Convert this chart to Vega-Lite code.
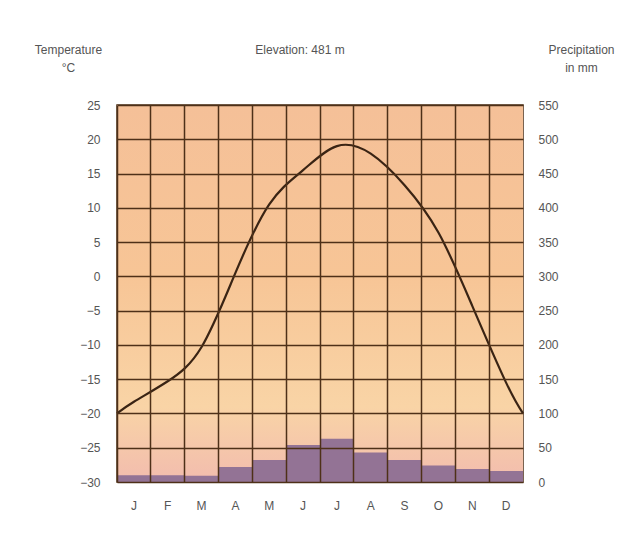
{
  "$schema": "https://vega.github.io/schema/vega-lite/v6.json",
  "width": 406,
  "height": 377,
  "autosize": "none",
  "padding": {"left": 117, "top": 105, "right": 113, "bottom": 55},
  "background": "white",
  "config": {
    "font": "Liberation Sans",
    "view": {"stroke": "#4e3018", "strokeWidth": 1.5},
    "axis": {"labelColor": "#555555", "titleColor": "#555555", "labelFontSize": 12, "titleFontSize": 12, "titleFontWeight": "normal", "domain": false, "ticks": false, "gridColor": "#4e3018", "gridOpacity": 1, "gridWidth": 1.5}
  },
  "title": {"text": "Elevation: 481 m", "anchor": "middle", "dx": -20, "offset": -14, "fontSize": 12, "fontWeight": "normal", "color": "#555555", "font": "Liberation Sans"},
  "datasets": {
    "precip": [
      {"month": "Jan", "precip": 10},
      {"month": "Feb", "precip": 10},
      {"month": "Mar", "precip": 9},
      {"month": "Apr", "precip": 22},
      {"month": "May", "precip": 32},
      {"month": "Jun", "precip": 54},
      {"month": "Jul", "precip": 63},
      {"month": "Aug", "precip": 43},
      {"month": "Sep", "precip": 32},
      {"month": "Oct", "precip": 24},
      {"month": "Nov", "precip": 19},
      {"month": "Dec", "precip": 16}
    ],
    "temp": [
      {"t": 0, "temp": -20},
      {"t": 0.5, "temp": -18.3},
      {"t": 1.5, "temp": -15.3},
      {"t": 2.5, "temp": -10.3},
      {"t": 3.5, "temp": 0.5},
      {"t": 4.5, "temp": 10.5},
      {"t": 5.5, "temp": 15.5},
      {"t": 6.5, "temp": 19},
      {"t": 7.5, "temp": 17.9},
      {"t": 8.5, "temp": 13.3},
      {"t": 9.5, "temp": 6.4},
      {"t": 10.5, "temp": -4.3},
      {"t": 11.5, "temp": -15.5},
      {"t": 12, "temp": -20}
    ]
  },
  "layer": [
    {
      "data": {"values": [{}]},
      "mark": {
        "type": "rect",
        "color": {
          "gradient": "linear", "x1": 0, "y1": 0, "x2": 0, "y2": 1,
          "stops": [
            {"offset": 0, "color": "#f5c098"},
            {"offset": 0.45, "color": "#f7c596"},
            {"offset": 0.8, "color": "#f9d4a6"},
            {"offset": 1, "color": "#f2bcae"}
          ]
        }
      },
      "encoding": {
        "x": {"value": 0},
        "x2": {"value": "width"},
        "y": {"value": 0},
        "y2": {"value": "height"}
      }
    },
    {
      "data": {"name": "precip"},
      "mark": {"type": "bar", "color": "#8d6f94", "opacity": 0.95},
      "encoding": {
        "x": {
          "field": "month", "type": "ordinal", "sort": null,
          "scale": {"paddingInner": 0, "paddingOuter": 0},
          "axis": {"title": null, "labelAngle": 0, "labelExpr": "slice(datum.label,0,1)", "labelPadding": 18, "grid": true, "bandPosition": 0, "zindex": 1, "labelFontSize": 12}
        },
        "y": {
          "field": "precip", "type": "quantitative",
          "scale": {"domain": [0, 550], "nice": false},
          "axis": {"orient": "right", "values": [0,50,100,150,200,250,300,350,400,450,500,550], "labelPadding": 15, "grid": false, "title": ["Precipitation", "in mm"], "titleAngle": 0, "titleAlign": "center", "titleBaseline": "top", "titleX": 58, "titleY": -61, "titleLineHeight": 18}
        }
      }
    },
    {
      "data": {"name": "temp"},
      "mark": {"type": "line", "color": "#3a2414", "strokeWidth": 2.2, "interpolate": "natural"},
      "encoding": {
        "x": {"field": "t", "type": "quantitative", "scale": {"domain": [0, 12], "nice": false, "zero": false}, "axis": null},
        "y": {
          "field": "temp", "type": "quantitative",
          "scale": {"domain": [-30, 25], "nice": false, "zero": false},
          "axis": {"orient": "left", "values": [-30,-25,-20,-15,-10,-5,0,5,10,15,20,25], "labelPadding": 17, "grid": true, "zindex": 1, "title": ["Temperature", "°C"], "titleAngle": 0, "titleAlign": "center", "titleBaseline": "top", "titleX": -49, "titleY": -61, "titleLineHeight": 18}
        }
      }
    }
  ],
  "resolve": {"scale": {"x": "independent", "y": "independent"}}
}
